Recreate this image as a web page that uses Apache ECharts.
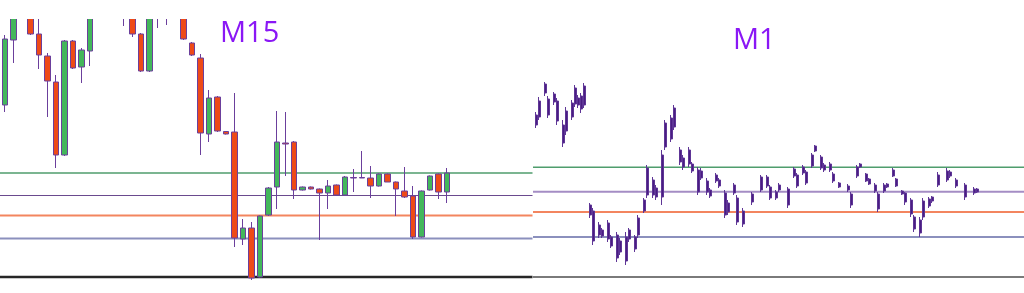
<!DOCTYPE html>
<html><head><meta charset="utf-8">
<script src="https://cdn.jsdelivr.net/npm/echarts@6/dist/echarts.min.js"></script>
<style>html,body{margin:0;padding:0;background:#fff}#c{width:1024px;height:293px}</style>
</head><body><div id="c"></div>
<script>
// ---------- DATA (price units) ----------
const panelTitles = ['M15', 'M1'];

// M15 candles: [open, close, low, high]
const m15Candles = [
  [172,238,165,242],[237,267,214,272],[267,270,261,274],[272,243,242,275],[243,222,208,262],
  [221,196,160,224],[195,122,109,202],[122,236,121,237],[236,209,208,237],[210,227,194,229],
  [226,267,211,270],[267,275,262,280],[275,270,265,282],[270,266,261,274],[266,262,251,270],
  [265,243,240,268],[243,206,205,244],[206,265,205,268],[265,262,249,270],[262,266,252,269],
  [266,270,263,273],[270,238,237,272],[234,222,221,235],[219,144,122,223],[143,179,135,187],
  [180,146,145,181],[145.5,143,142.5,146],[145,39,30,184],[38,49,32,58],[49,-1,-3,55],
  [0,61,-0.5,61.5],[62,89,61,90],[90,135,68,166],[134,133,101,165],[135,87,78,136],
  [87,90,86.5,90.5],[90,88,87.5,90.5],[88,84,37,88.5],[84,91,68,97],[92,82,81.5,92.5],
  [82,100,81.5,101],[99.5,99,85,108],[99,99.5,99,126],[99,91,79,111],[91,103,90.5,103.5],
  [103,95,95,103.5],[95,88,61,95.5],[86,80,79,110],[81,40,38,91],[40,86,39.5,86.5],
  [87,101,86.5,101.5],[103,85,78,103.5],[85,104,74,109]
];
const m15Levels = [104, 81.5, 61.5, 38.5, 0];

// M1 candles: [open, close, low, high]; null = nothing drawn
const m1Candles = [
  [152,162,149,165],[160,176,157,180],null,[184,193,181,195],[178,162,159,181],null,
  [175,183,172,185],[176,156,152,179],null,[152,134,130,157],[146,166,142,170],null,
  [160,174,157,177],[173,189,170,192],[179,172,169,182],[168,181,164,184],[172,191,169,194],null,
  [72,62,59,74],[66,36,32,69],null,[42,52,39,55],[47,41,39,49],null,
  [38,54,35,57],[40,31,29,42],null,[42,19,15,45],[25,36,22,39],null,
  [40,16,12,45],[38,47,35,49],null,[28,40,25,42],[42,59,39,62],null,
  [66,77,64,79],[82,109,79,112],null,[97,82,79,100],[80,89,77,92],null,
  [80,122,72,127],[130,154,127,157],null,[138,159,135,162],[150,169,147,172],null,
  [127,115,112,130],[119,110,107,122],null,[127,113,110,130],[113,106,104,115],null,
  [85,107,82,110],[106,99,97,109],null,[96,85,82,99],[87,81,79,89],null,
  [96,102,94,104],[97,91,89,99],null,[84,62,59,87],[65,74,62,77],null,
  [84,92,82,94],[79,55,52,82],null,[53,66,50,69],null,null,
  [75,83,72,85],null,null,[87,100,85,102],null,[100,91,89,102],
  [90,79,77,92],null,[79,85,77,87],[87,92,85,94],null,null,
  [88,72,69,90],null,[101,108,99,110],[102,91,89,104],null,[104,110,102,112],
  [105,94,92,107],null,[111,122,109,124],[126,131,125,132],null,[120,109,107,122],
  [112,107,105,114],null,[107,113,105,115],[103,96,94,105],null,[94,90,89,95],
  null,null,[91,87,85,93],[83,72,69,85],null,[101,110,99,112],
  [110,113,109,114],null,[103,96,95,104],[98,93,92,99],null,[92,86,84,94],
  [83,68,65,85],null,[86,92,84,94],[93,90,89,94],null,[101,107,100,109],
  [98,91,90,99],null,[86,83,82,87],[84,75,72,85],null,[77,63,60,79],
  [60,48,45,62],null,[57,44,40,60],[60,76,57,79],null,[71,78,69,80],
  [76,80,74,81],null,[92,102,90,105],null,null,[97,106,95,109],
  [105,101,99,107],null,[97,91,89,99],null,null,[92,80,77,94],
  null,null,[84,88,82,90],[88,85,84,89]
];
const m1Levels = [109.7, 85.3, 65, 40, 0];

// ---------- STYLE ----------
const leftLevelStyle = [
  {color:'#4f9d6d', width:1.5}, {color:'#6a4a8e', width:1}, {color:'#f3855f', width:1.8},
  {color:'#8b90bd', width:2}, {color:'#262626', width:2.5}
];
const rightLevelStyle = [
  {color:'#4f9d6d', width:1.5}, {color:'#a48dc4', width:2}, {color:'#f3855f', width:1.8},
  {color:'#8b90bd', width:2}, {color:'#7a7a7a', width:2}
];

const chart = echarts.init(document.getElementById('c'), null, {renderer:'canvas'});
const idx = (arr) => arr.map((_, i) => String(i));

function levelSeries(levels, styles, axisIdx) {
  return levels.map((v, k) => ({
    type:'line', xAxisIndex:axisIdx, yAxisIndex:axisIdx, data:[v, v], symbol:'none',
    silent:true, z:2, lineStyle:{color:styles[k].color, width:styles[k].width}
  }));
}

const hid = {show:false};
const option = {
  animation:false,
  backgroundColor:'#ffffff',
  grid:[
    {left:0, top:19, width:532.5, height:274},
    {left:0.75, top:19, width:m15Candles.length*8.5, height:274},
    {left:533, top:0, right:0, height:293},
    {left:534.5, top:0, width:m1Candles.length*3, height:293}
  ],
  xAxis:[
    {gridIndex:0, type:'category', data:['a','b'], boundaryGap:false, ...hid},
    {gridIndex:1, type:'category', data:idx(m15Candles), boundaryGap:true, ...hid},
    {gridIndex:2, type:'category', data:['a','b'], boundaryGap:false, ...hid},
    {gridIndex:3, type:'category', data:idx(m1Candles), boundaryGap:true, ...hid}
  ],
  yAxis:[
    {gridIndex:0, type:'value', min:-16, max:258, ...hid},
    {gridIndex:1, type:'value', min:-16, max:258, ...hid},
    {gridIndex:2, type:'value', min:-16, max:277, ...hid},
    {gridIndex:3, type:'value', min:-16, max:277, ...hid}
  ],
  series:[
    ...levelSeries(m15Levels, leftLevelStyle, 0),
    {
      type:'candlestick', xAxisIndex:1, yAxisIndex:1, data:m15Candles, barWidth:6, z:3, clip:true,
      itemStyle:{color:'#43b75b', color0:'#ee4a17', borderColor:'#6b3f9c', borderColor0:'#6b3f9c', borderWidth:1}
    },
    ...levelSeries(m1Levels, rightLevelStyle, 2),
    {
      type:'candlestick', xAxisIndex:3, yAxisIndex:3, data:m1Candles.map(d => d || '-'), barWidth:2.5, z:3,
      itemStyle:{color:'#4a1d82', color0:'#4a1d82', borderColor:'#5e3596', borderColor0:'#5e3596', borderWidth:1}
    }
  ],
  graphic:[
    // white band hiding the part of the M15 panel above its plot window
    {type:'rect', z:50, silent:true, shape:{x:0, y:0, width:533, height:19}, style:{fill:'#ffffff'}},
    {type:'text', z:60, left:220, top:19, style:{text:panelTitles[0], font:'29px "Open Sans"', fill:'#8a17f5'}},
    {type:'text', z:60, left:733, top:26, style:{text:panelTitles[1], font:'29px "Open Sans"', fill:'#8a17f5'}}
  ]
};
chart.setOption(option);
</script>
</body></html>
